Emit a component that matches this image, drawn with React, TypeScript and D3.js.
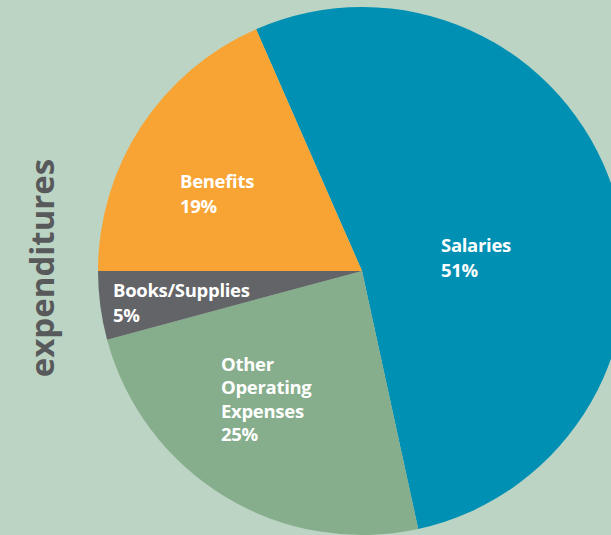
import React from "react";
import * as d3 from "d3";

const categories = ["Salaries", "Other Operating Expenses", "Books/Supplies", "Benefits"];
const printedPercent = [51, 25, 5, 19];
const sliceShares = [53.15, 24.22, 4.19, 18.43];
const labelLines = [["Salaries"], ["Other", "Operating", "Expenses"], ["Books/Supplies"], ["Benefits"]];

const W = 611;
const H = 535;
const CX = 362;
const CY = 271;
const R = 264;
const START_DEG = -23.65;
const colors = ["#0090b4", "#86ad8c", "#636467", "#f8a434"];
const BG = "#bcd4c3";
// label anchors (left-aligned text, first baseline)
const labelAnchors: [number, number][] = [
  [441, 252],
  [221, 371],
  [113, 297],
  [180, 188],
];
const LINE_H = 25;
const lineGap = (i: number) => (i === 1 ? 23.3 : LINE_H);

export default function App() {
  React.useEffect(() => {
    document.body.style.margin = "0";
  }, []);
  const pie = d3
    .pie<number>()
    .sort(null)
    .value((d) => d)
    .startAngle((START_DEG * Math.PI) / 180)
    .endAngle((START_DEG * Math.PI) / 180 + 2 * Math.PI);
  const arcs = pie(sliceShares);
  const arc = d3.arc<d3.PieArcDatum<number>>().innerRadius(0).outerRadius(R);
  const font = "'Open Sans', 'Noto Sans', sans-serif";
  return (
    <svg width={W} height={H} style={{ display: "block", position: "absolute", left: 0, top: 0 }}>
      <rect x={0} y={0} width={W} height={H} fill={BG} />
      <g transform={`translate(${CX},${CY})`}>
        {arcs.map((a, i) => (
          <path key={categories[i]} d={arc(a) || ""} fill={colors[i]} />
        ))}
      </g>
      {categories.map((c, i) => {
        const [x, y] = labelAnchors[i];
        const lines = [...labelLines[i], `${printedPercent[i]}%`];
        return (
          <g key={c}>
            {lines.map((l, j) => (
              <text
                key={j}
                x={x}
                y={y + j * lineGap(i)}
                fill="#ffffff"
                fontFamily={font}
                fontWeight={700}
                fontSize={18.5}
                letterSpacing={-0.3}
              >
                {l}
              </text>
            ))}
          </g>
        );
      })}
      <text
        transform={`translate(54,268) rotate(-90)`}
        textAnchor="middle"
        fill="#58595b"
        fontFamily={font}
        fontWeight={700}
        fontSize={33}
      >
        expenditures
      </text>
    </svg>
  );
}
